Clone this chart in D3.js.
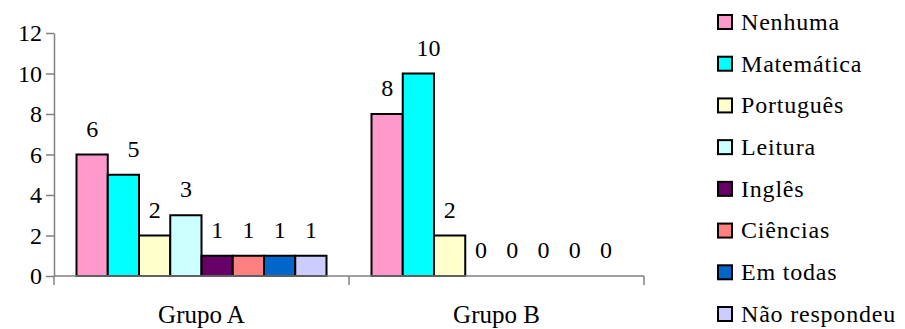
<!DOCTYPE html>
<html>
<head>
<meta charset="utf-8">
<script src="https://cdn.jsdelivr.net/npm/d3@7"></script>
<style>
  html, body { margin: 0; padding: 0; background: #fff; }
  #chart text { font-family: "Liberation Serif", "Times New Roman", serif; }
</style>
</head>
<body>
<svg id="chart" width="905" height="329"></svg>
<script>
// Groups on the x axis
const groups = ["Grupo A", "Grupo B"];
// Subjects (one series each)
const subjects = ["Nenhuma", "Matemática", "Português", "Leitura", "Inglês", "Ciências", "Em todas", "Não respondeu"];
// Counts per subject, in group order
const grupoA = [6, 5, 2, 3, 1, 1, 1, 1];
const grupoB = [8, 10, 2, 0, 0, 0, 0, 0];
// Fill colours per subject
const colors = ["#FF99CC", "#00FFFF", "#FFFFCC", "#CCFFFF", "#660066", "#FF8080", "#0066CC", "#CCCCFF"];
// Y axis ticks
const yTicks = [0, 2, 4, 6, 8, 10, 12];

const FONT = '"Liberation Serif", "Times New Roman", serif';

const svg = d3.select("#chart")
  .attr("font-family", FONT)
  .style("font-family", FONT);
const plot = { left: 54, right: 644, top: 33, bottom: 276 };

const x0 = d3.scaleBand().domain(groups).range([plot.left, plot.right]).padding(0);
const x1 = d3.scaleBand().domain(subjects).range([0, x0.bandwidth()]).paddingInner(0).paddingOuter(0.72);
const y = d3.scaleLinear().domain([0, 12]).range([plot.bottom, plot.top]);
const color = d3.scaleOrdinal().domain(subjects).range(colors);

const table = groups.map((g, gi) => ({
  group: g,
  values: subjects.map((s, si) => ({ subject: s, index: si, value: [grupoA, grupoB][gi][si] }))
}));

function serif(size) {
  return sel => sel.attr("font-family", FONT)
    .style("font-family", FONT)
    .style("font-size", size + "px")
    .attr("fill", "#000");
}

// Bars
const gGroups = svg.append("g").selectAll("g")
  .data(table).join("g")
  .attr("transform", d => `translate(${x0(d.group)},0)`);

gGroups.selectAll("rect")
  .data(d => d.values.filter(v => v.value > 0))
  .join("rect")
  .attr("x", d => x1(d.subject))
  .attr("y", d => y(d.value))
  .attr("width", x1.bandwidth())
  .attr("height", d => y(0) - y(d.value))
  .attr("fill", d => color(d.subject))
  .attr("stroke", "#000")
  .attr("stroke-width", 2);

// Value labels (the Matemática labels sit a little to the right)
gGroups.selectAll("text.val")
  .data(d => d.values)
  .join("text")
  .attr("class", "val")
  .attr("x", d => x1(d.subject) + x1.bandwidth() / 2 + (d.index === 1 ? 10 : 0))
  .attr("y", d => y(d.value) - 18)
  .attr("text-anchor", "middle")
  .call(serif(24))
  .text(d => d.value);

// Y axis
const yAxis = svg.append("g")
  .attr("transform", `translate(${plot.left},0)`)
  .call(d3.axisLeft(y).tickValues(yTicks).tickSize(8).tickSizeOuter(0).tickPadding(4));
yAxis.attr("font-family", FONT).attr("font-size", 24);
yAxis.select(".domain").attr("stroke", "#808080").attr("stroke-width", 1.5);
yAxis.selectAll(".tick line").attr("stroke", "#808080").attr("stroke-width", 1.5);
yAxis.selectAll(".tick text").call(serif(24));

// X axis with tick marks at the group boundaries
const xAxis = svg.append("g")
  .attr("transform", `translate(0,${plot.bottom})`);
xAxis.append("line")
  .attr("x1", plot.left).attr("x2", plot.right)
  .attr("stroke", "#808080").attr("stroke-width", 1.5);
const bounds = [x0(groups[0]), x0(groups[1]), x0(groups[1]) + x0.bandwidth()];
xAxis.selectAll("line.tk").data(bounds).join("line")
  .attr("class", "tk")
  .attr("x1", d => d).attr("x2", d => d)
  .attr("y1", 0).attr("y2", 9)
  .attr("stroke", "#808080").attr("stroke-width", 1.5);
xAxis.selectAll("text").data(groups).join("text")
  .attr("x", d => x0(d) + x0.bandwidth() / 2)
  .attr("y", 47)
  .attr("text-anchor", "middle")
  .call(serif(25))
  .text(d => d);

// Legend
const legend = svg.append("g").attr("transform", "translate(718,0)");
const rowY = d3.scalePoint().domain(subjects).range([22, 314]);
const item = legend.selectAll("g").data(subjects).join("g")
  .attr("transform", d => `translate(0,${rowY(d)})`);
item.append("rect")
  .attr("x", 0).attr("y", -7)
  .attr("width", 14).attr("height", 14)
  .attr("fill", d => color(d))
  .attr("stroke", "#000").attr("stroke-width", 2);
item.append("text")
  .attr("x", 23).attr("y", 0)
  .attr("dy", "0.33em")
  .call(serif(24))
  .style("letter-spacing", "0.8px")
  .text(d => d);
</script>
</body>
</html>
